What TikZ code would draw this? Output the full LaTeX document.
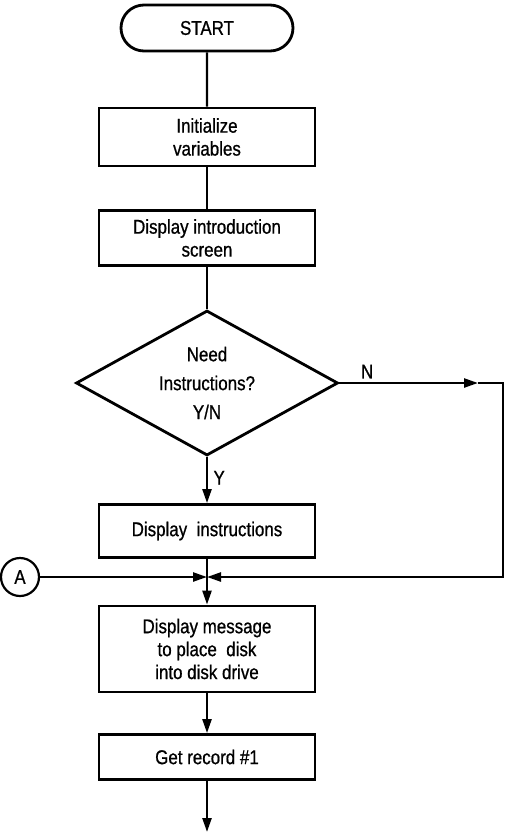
\documentclass[tikz,border=0pt]{standalone}
\usepackage{fontspec}
\setmainfont{Liberation Sans}[FakeStretch=0.85,FakeBold=0.8]
\usetikzlibrary{shapes.geometric,shapes.misc,arrows.meta}

\begin{document}
\begin{tikzpicture}[x=1bp,y=-1bp,
  every node/.style={font=\fontsize{20}{23}\selectfont},
  box/.style={draw, line width=2.8bp, minimum width=216bp, align=center, inner sep=0},
  line/.style={line width=2.4bp},
  flow/.style={line width=2.4bp, ->, >={Triangle[length=14bp,width=9bp]}}]
\useasboundingbox (0,0) rectangle (506,837);
% boxes, top to bottom
\node[box, rounded rectangle, minimum width=172bp, minimum height=46bp] (start) at (207,28) {START};
\node[box, minimum height=58bp] (init) at (207,137) {Initialize\\variables};
\node[box, minimum height=55bp] (intro) at (207,238) {Display introduction\\screen};
\node[box, diamond, aspect=1.8, minimum width=262bp, minimum height=145bp] (need) at (207,383) {Need\\[6bp]Instructions?\\[6bp]Y/N};
\node[box, minimum height=53bp] (instr) at (207,531) {Display\ \ instructions};
\node[draw, circle, line width=2.2bp, minimum size=38bp, inner sep=0] (A) at (20,577) {A};
\node[box, minimum height=86bp] (msg) at (207,649) {Display message\\to place\ \ disk\\into disk drive};
\node[box, minimum height=45bp] (rec) at (207,757) {Get record \#1};
\coordinate (join) at (207,577);
\coordinate (nmid) at (478,383);
\coordinate (corner) at (503,383);
\coordinate (out) at (207,832);
% connectors
\draw[line] (start) -- (init);
\draw[line] (init) -- (intro);
\draw[line] (intro) -- (need);
\draw[flow] (need) -- node[right, xshift=2bp, pos=0.45]{Y} (instr);
\draw[flow] (need.east) -- node[above, pos=0.2]{N} (nmid);
\draw[flow] (nmid) -- (corner) |- (join);
\draw[flow] (A) -- (join);
\draw[flow] (instr) -- (msg);
\draw[flow] (msg) -- (rec);
\draw[flow] (rec) -- (out);
\end{tikzpicture}
\end{document}
